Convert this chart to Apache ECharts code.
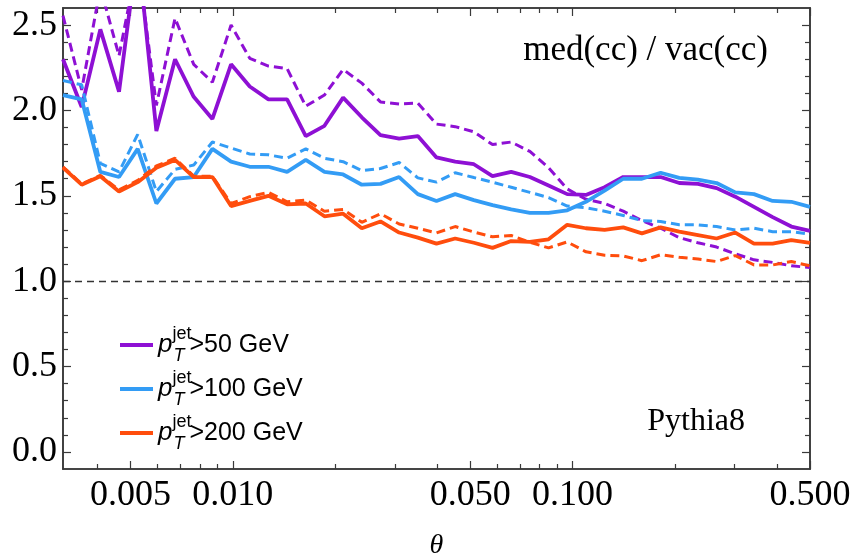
<!DOCTYPE html>
<html>
<head>
<meta charset="utf-8">
<script src="https://cdn.jsdelivr.net/npm/echarts@6/dist/echarts.min.js"></script>
<style>
  html, body { margin: 0; padding: 0; background: #fff; }
  #chart { width: 854px; height: 560px; }
</style>
</head>
<body>
<div id="chart"></div>
<script>
// theta bins (log spaced)
const theta = [0.003162, 0.003589, 0.004073, 0.004623, 0.005247, 0.005955, 0.006758, 0.007670, 0.008705, 0.009880,
  0.011214, 0.012727, 0.014444, 0.016393, 0.018605, 0.021116, 0.023965, 0.027200, 0.030870, 0.035036,
  0.039763, 0.045129, 0.051219, 0.058131, 0.065976, 0.074877, 0.084981, 0.096450, 0.10947, 0.12424,
  0.14100, 0.16003, 0.18163, 0.20614, 0.23395, 0.26552, 0.30134, 0.34201, 0.38816, 0.44054, 0.5];

// med(cc)/vac(cc), solid and dashed curves
const pt50 = [2.30, 2.02, 2.475, 2.11, 2.95, 1.88, 2.30, 2.08, 1.95, 2.27,
  2.14, 2.065, 2.065, 1.85, 1.91, 2.075, 1.96, 1.855, 1.835, 1.85,
  1.725, 1.70, 1.685, 1.615, 1.64, 1.61, 1.56, 1.51, 1.505, 1.55,
  1.61, 1.61, 1.61, 1.575, 1.57, 1.545, 1.495, 1.435, 1.375, 1.32, 1.295];
const pt50d = [2.555, 2.12, 2.72, 2.32, 2.88, 2.03, 2.54, 2.27, 2.165, 2.50,
  2.305, 2.26, 2.245, 2.025, 2.09, 2.24, 2.16, 2.05, 2.038, 2.043,
  1.92, 1.905, 1.875, 1.80, 1.815, 1.76, 1.665, 1.54, 1.48, 1.455,
  1.41, 1.355, 1.31, 1.255, 1.225, 1.20, 1.16, 1.125, 1.11, 1.09, 1.08];
const pt100 = [2.09, 2.065, 1.64, 1.61, 1.775, 1.455, 1.60, 1.61, 1.775, 1.70,
  1.67, 1.67, 1.64, 1.71, 1.64, 1.625, 1.565, 1.57, 1.61, 1.51,
  1.47, 1.51, 1.475, 1.445, 1.42, 1.40, 1.40, 1.415, 1.465, 1.53,
  1.60, 1.60, 1.635, 1.605, 1.595, 1.575, 1.52, 1.51, 1.47, 1.465, 1.435];
const pt100d = [2.175, 2.15, 1.69, 1.64, 1.86, 1.525, 1.655, 1.68, 1.815, 1.78,
  1.745, 1.74, 1.72, 1.775, 1.72, 1.70, 1.648, 1.66, 1.695, 1.605,
  1.58, 1.635, 1.607, 1.58, 1.55, 1.52, 1.49, 1.44, 1.43, 1.41,
  1.385, 1.355, 1.35, 1.33, 1.33, 1.32, 1.30, 1.31, 1.29, 1.29, 1.275];
const pt200 = [1.665, 1.565, 1.615, 1.525, 1.58, 1.665, 1.71, 1.61, 1.61, 1.44,
  1.47, 1.50, 1.45, 1.455, 1.38, 1.395, 1.31, 1.35, 1.285, 1.255,
  1.22, 1.25, 1.225, 1.195, 1.235, 1.23, 1.245, 1.33, 1.31, 1.30,
  1.315, 1.28, 1.315, 1.29, 1.27, 1.25, 1.285, 1.22, 1.22, 1.24, 1.225];
const pt200d = [1.67, 1.57, 1.62, 1.535, 1.59, 1.675, 1.72, 1.615, 1.615, 1.455,
  1.495, 1.52, 1.465, 1.475, 1.41, 1.42, 1.345, 1.395, 1.335, 1.31,
  1.283, 1.32, 1.288, 1.26, 1.268, 1.228, 1.195, 1.23, 1.172, 1.152,
  1.148, 1.12, 1.155, 1.14, 1.13, 1.115, 1.15, 1.095, 1.095, 1.115, 1.09];

// ticks
const xMajor = [0.005, 0.01, 0.05, 0.1, 0.5];
const xMinor = [0.004, 0.006, 0.007, 0.008, 0.009, 0.02, 0.03, 0.04, 0.06, 0.07, 0.08, 0.09, 0.2, 0.3, 0.4];
const yMajor = [0, 0.5, 1.0, 1.5, 2.0, 2.5];
const yMinor = [0.1, 0.2, 0.3, 0.4, 0.6, 0.7, 0.8, 0.9, 1.1, 1.2, 1.3, 1.4, 1.6, 1.7, 1.8, 1.9, 2.1, 2.2, 2.3, 2.4];

const legendText = { 'pt50': '>50 GeV', 'pt100': '>100 GeV', 'pt200': '>200 GeV' };

const PURPLE = '#8E10D4';
const BLUE = '#339CF5';
const ORANGE = '#FF4D0D';
const FRAME = '#3a3a3a';

const pairs = ys => ys.map((y, i) => [theta[i], y]);

const myChart = echarts.init(document.getElementById('chart'));

function xAx(pos, ticks, len, labels) {
  return {
    type: 'log', logBase: 10, min: 0.0031623, max: 0.5, position: pos,
    axisLine: { show: true, onZero: false, lineStyle: { color: FRAME, width: 1.6 } },
    axisTick: { show: true, inside: true, length: len, customValues: ticks, lineStyle: { color: FRAME, width: 1.2 } },
    axisLabel: labels ? {
      show: true, customValues: xMajor, margin: 9,
      fontFamily: 'Liberation Serif', fontSize: 36, color: '#000',
      formatter: v => Number(v).toFixed(3)
    } : { show: false },
    splitLine: { show: false },
    minorTick: { show: false }
  };
}
function yAx(pos, ticks, len, labels) {
  return {
    type: 'value', min: -0.1, max: 2.6, position: pos,
    axisLine: { show: true, onZero: false, lineStyle: { color: FRAME, width: 1.6 } },
    axisTick: { show: true, inside: true, length: len, customValues: ticks, lineStyle: { color: FRAME, width: 1.2 } },
    axisLabel: labels ? {
      show: true, customValues: yMajor, margin: 6,
      fontFamily: 'Liberation Serif', fontSize: 36, color: '#000',
      formatter: v => Number(v).toFixed(1)
    } : { show: false },
    splitLine: { show: false }
  };
}

const xAxes = [xAx('bottom', xMajor, 8, true), xAx('bottom', xMinor, 5, false), xAx('top', xMajor, 8, false), xAx('top', xMinor, 5, false)];
xAxes[0].name = 'θ';
xAxes[0].nameLocation = 'middle';
xAxes[0].nameGap = 63;
xAxes[0].nameTextStyle = { fontFamily: 'Liberation Serif', fontStyle: 'italic', fontSize: 28, color: '#000' };

function line(name, ys, color, dashed) {
  return {
    name: name, type: 'line', data: pairs(ys),
    showSymbol: false, symbol: 'none', clip: true,
    lineStyle: { color: color, width: dashed ? 3 : 3.8, type: dashed ? [9, 5] : 'solid' },
    itemStyle: { color: color },
    emphasis: { disabled: true }
  };
}

const series = [
  line('pt50d', pt50d, PURPLE, true),
  line('pt50', pt50, PURPLE, false),
  line('pt100d', pt100d, BLUE, true),
  line('pt100', pt100, BLUE, false),
  line('pt200d', pt200d, ORANGE, true),
  line('pt200', pt200, ORANGE, false)
];
series[0].markLine = {
  silent: true, symbol: ['none', 'none'], label: { show: false },
  lineStyle: { color: '#333', width: 1.4, type: [7, 5] },
  data: [{ yAxis: 1 }]
};

const option = {
  animation: false,
  backgroundColor: '#fff',
  grid: { left: 63, right: 44, top: 8, bottom: 91, containLabel: false, outerBoundsMode: 'none' },
  title: [
    { text: 'med(cc) / vac(cc)', right: 86, top: 33, padding: 0,
      textStyle: { fontFamily: 'Liberation Serif', fontWeight: 'normal', fontSize: 35, color: '#000' } },
    { text: 'Pythia8', right: 109, top: 406, padding: 0,
      textStyle: { fontFamily: 'Liberation Serif', fontWeight: 'normal', fontSize: 32, color: '#000' } }
  ],
  legend: {
    data: ['pt50', 'pt100', 'pt200'],
    orient: 'vertical', left: 120, top: 325, padding: 0,
    icon: 'rect', itemWidth: 33, itemHeight: 4, itemGap: 4,
    selectedMode: false,
    formatter: name => '{p|p}{sup|jet}{sub|T}{t|' + legendText[name] + '}',
    textStyle: {
      fontFamily: 'Liberation Sans', fontSize: 25, color: '#000',
      rich: {
        p: { fontFamily: 'Liberation Sans', fontStyle: 'italic', fontSize: 26, lineHeight: 40, color: '#000' },
        sup: { fontFamily: 'Liberation Sans', fontSize: 18, lineHeight: 18, verticalAlign: 'top', width: 1, color: '#000' },
        sub: { fontFamily: 'Liberation Sans', fontStyle: 'italic', fontSize: 18, lineHeight: 18, verticalAlign: 'bottom', padding: [0, 5, 0, 0], color: '#000' },
        t: { fontFamily: 'Liberation Sans', fontSize: 25, lineHeight: 40, color: '#000' }
      }
    }
  },
  xAxis: xAxes,
  yAxis: [yAx('left', yMajor, 8, true), yAx('left', yMinor, 5, false), yAx('right', yMajor, 8, false), yAx('right', yMinor, 5, false)],
  series: series
};

myChart.setOption(option);
</script>
</body>
</html>
